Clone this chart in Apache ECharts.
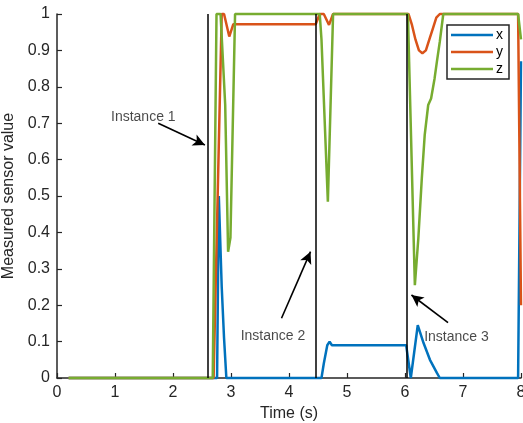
<!DOCTYPE html>
<html>
<head>
<meta charset="utf-8">
<script src="https://cdn.jsdelivr.net/npm/echarts@6/dist/echarts.min.js"></script>
<style>html,body{margin:0;padding:0;background:#fff}#c{width:523px;height:423px}</style>
</head>
<body>
<div id="c"></div>
<script>
// ---- data ----
var xTime = [0.2, 2.76, 2.79, 2.84, 2.88, 2.92, 4.56, 4.6, 4.66, 4.7, 4.74, 6.02, 6.1, 6.22, 6.32, 6.43, 6.55, 6.6, 7.95, 8.0];
var xVals = [0, 0, 0.5, 0.25, 0.11, 0, 0, 0.04, 0.09, 0.1, 0.09, 0.09, 0, 0.145, 0.096, 0.05, 0.014, 0, 0, 0.87];

var yTime = [0.2, 2.70, 2.84, 2.88, 2.97, 3.04, 4.46, 4.53, 4.6, 4.69, 4.76, 6.06, 6.12, 6.18, 6.24, 6.30, 6.36, 6.42, 6.48, 6.54, 6.60, 7.95, 8.0];
var yVals = [0, 0, 1, 1, 0.938, 0.972, 0.972, 1, 1, 0.97, 1, 1, 0.97, 0.93, 0.9, 0.892, 0.9, 0.93, 0.96, 0.99, 1, 1, 0.2];

var zTime = [0.2, 2.685, 2.75, 2.82, 2.90, 2.95, 2.99, 3.07, 4.53, 4.56, 4.67, 4.76, 6.05, 6.17, 6.23, 6.29, 6.34, 6.40, 6.45, 6.51, 6.55, 6.60, 6.66, 7.95, 8.0];
var zVals = [0, 0, 1, 1, 0.75, 0.347, 0.385, 1, 1, 0.93, 0.484, 1, 1, 0.255, 0.384, 0.549, 0.668, 0.75, 0.768, 0.823, 0.869, 0.924, 1, 1, 0.93];

var instanceTimes = [2.60, 4.46, 6.03];
var labelNames = ['Instance 1', 'Instance 2', 'Instance 3'];
var labelT = [1.488, 3.724, 6.887];
var labelV = [0.718, 0.115, 0.112];
var arrowFromT = [1.745, 3.871, 6.742];
var arrowFromV = [0.700, 0.164, 0.152];
var arrowToT = [2.55, 4.371, 6.111];
var arrowToV = [0.640, 0.347, 0.228];

var xTicks = [0, 1, 2, 3, 4, 5, 6, 7, 8];
var yTicks = [0, 0.1, 0.2, 0.3, 0.4, 0.5, 0.6, 0.7, 0.8, 0.9, 1];

function pairs(t, v) { return t.map(function (tt, i) { return [tt, v[i]]; }); }

var axisColor = '#262626';
var font = "'Liberation Sans', Arial, Helvetica, sans-serif";

var chart = echarts.init(document.getElementById('c'), null, {renderer: 'canvas'});
chart.setOption({
  animation: false,
  backgroundColor: '#fff',
  textStyle: {fontFamily: font},
  grid: {left: 57, right: 2, top: 14, bottom: 45, containLabel: false, outerBoundsMode: 'none'},
  legend: {
    data: ['x', 'y', 'z'],
    icon: 'rect',
    orient: 'vertical',
    left: 447, top: 25,
    padding: [2, 6, 2, 4],
    itemWidth: 42, itemHeight: 2.5, itemGap: 1,
    borderColor: axisColor, borderWidth: 1.5,
    backgroundColor: '#fff',
    textStyle: {fontSize: 14, color: '#000', fontFamily: font, padding: [0, 0, 0, -2], lineHeight: 16}
  },
  xAxis: {
    type: 'value', min: xTicks[0], max: xTicks[xTicks.length - 1], interval: 1,
    name: 'Time (s)', nameLocation: 'middle', nameGap: 27,
    nameTextStyle: {fontSize: 16, color: axisColor, fontFamily: font},
    axisLine: {show: true, lineStyle: {color: axisColor, width: 1.5}},
    axisTick: {show: true, inside: true, length: 5, lineStyle: {color: axisColor, width: 1.2}},
    axisLabel: {fontSize: 16, color: axisColor, margin: 7, fontFamily: font},
    splitLine: {show: false}
  },
  yAxis: {
    type: 'value', min: yTicks[0], max: yTicks[yTicks.length - 1], interval: 0.1,
    name: 'Measured sensor value', nameLocation: 'middle', nameGap: 31, nameRotate: 90,
    nameTextStyle: {fontSize: 16, color: axisColor, fontFamily: font},
    axisLine: {show: true, lineStyle: {color: axisColor, width: 1.5}},
    axisTick: {show: true, inside: true, length: 5, lineStyle: {color: axisColor, width: 1.2}},
    axisLabel: {fontSize: 16, color: axisColor, margin: 7, fontFamily: font},
    splitLine: {show: false}
  },
  series: [
    {
      name: 'instances', type: 'line', data: [], silent: true,
      markLine: {
        silent: true, symbol: ['none', 'none'], animation: false,
        label: {show: false},
        lineStyle: {color: '#000', width: 1.5, type: 'solid'},
        data: instanceTimes.map(function (t) { return {xAxis: t}; })
      }
    },
    {name: 'x', type: 'line', data: pairs(xTime, xVals), symbol: 'none', showSymbol: false, clip: false,
     lineStyle: {color: '#0072BD', width: 2.5}, itemStyle: {color: '#0072BD'}},
    {name: 'y', type: 'line', data: pairs(yTime, yVals), symbol: 'none', showSymbol: false, clip: false,
     lineStyle: {color: '#D95319', width: 2.5}, itemStyle: {color: '#D95319'}},
    {name: 'z', type: 'line', data: pairs(zTime, zVals), symbol: 'none', showSymbol: false, clip: false,
     lineStyle: {color: '#77AC30', width: 2.5}, itemStyle: {color: '#77AC30'}},
    {
      name: 'annotations', type: 'scatter', symbolSize: 1, silent: true,
      itemStyle: {color: 'rgba(0,0,0,0)'},
      data: labelNames.map(function (n, i) { return {name: n, value: [labelT[i], labelV[i]]}; }),
      label: {show: true, position: 'inside', formatter: '{b}', fontSize: 14, color: '#1a1a1a', fontFamily: font},
      markLine: {
        silent: true, symbol: ['none', 'arrow'], symbolSize: [9, 12], animation: false,
        label: {show: false},
        lineStyle: {color: '#000', width: 1.6, type: 'solid'},
        data: arrowFromT.map(function (t, i) {
          return [{coord: [t, arrowFromV[i]]}, {coord: [arrowToT[i], arrowToV[i]]}];
        })
      }
    }
  ]
});
</script>
</body>
</html>
